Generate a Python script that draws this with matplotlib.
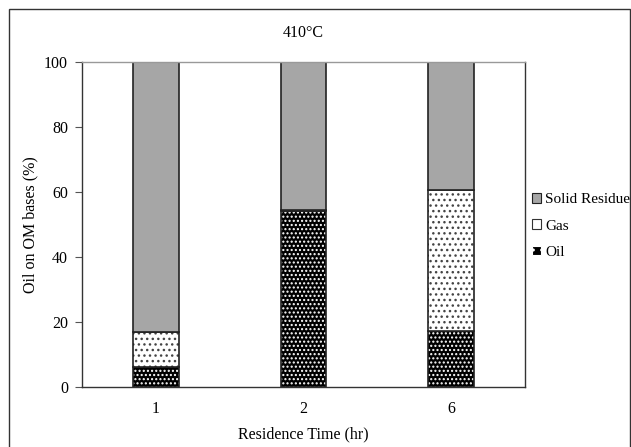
import matplotlib
matplotlib.use("Agg")
import matplotlib.pyplot as plt
import numpy as np
from matplotlib.patches import Rectangle, Patch

plt.rcParams['font.family'] = ['Liberation Serif', 'DejaVu Serif']
plt.rcParams['hatch.linewidth'] = 1.0

categories = ['1', '2', '6']
oil = [6.2, 54.2, 17.2]
gas = [10.7, 0.3, 43.4]
solid = [83.1, 45.5, 39.4]
series_names = ['Solid Residue', 'Gas', 'Oil']

FS = 11.5
fig = plt.figure(figsize=(6.31, 4.47), dpi=100)
ax = fig.add_axes([82/631, 1-387/447, (525-82)/631, (387-62)/447])

x = np.arange(len(categories))
w = 0.31
oil_arr = np.array(oil)
gas_arr = np.array(gas)
solid_arr = np.array(solid)

# Oil: black with white dots
ax.bar(x, oil_arr, w, color='black', edgecolor='white', hatch='....', linewidth=0)
ax.bar(x, oil_arr, w, fill=False, edgecolor='#222222', linewidth=1.2)
# Gas: white with black dots
ax.bar(x, gas_arr, w, bottom=oil_arr, color='white', edgecolor='#444444', hatch='...', linewidth=0)
ax.bar(x, gas_arr, w, bottom=oil_arr, fill=False, edgecolor='#222222', linewidth=1.2)
# Solid residue: grey
ax.bar(x, solid_arr, w, bottom=oil_arr + gas_arr, color='#a6a6a6', edgecolor='#222222', linewidth=1.2)

ax.set_xlim(-0.5, 2.5)
ax.set_ylim(0, 100)
ax.set_yticks(np.arange(0, 101, 20))
ax.set_xticks(x)
ax.set_xticklabels(categories)
ax.tick_params(axis='x', length=0, labelsize=FS, pad=10)
ax.tick_params(axis='y', direction='out', length=5, labelsize=FS, color='#555555', pad=5)
for s in ax.spines.values():
    s.set_color('#333333')
    s.set_linewidth(1.0)
ax.spines['top'].set_color('#999999')

ax.set_xlabel('Residence Time (hr)', fontsize=FS, labelpad=7)
ax.set_ylabel('Oil on OM bases (%)', fontsize=FS, labelpad=4)
ax.set_title('410°C', fontsize=FS, pad=18)

h_solid = Patch(facecolor='#a6a6a6', edgecolor='#222222', linewidth=0.8)
h_gas = Patch(facecolor='white', edgecolor='#333333', hatch='.', linewidth=0.8)
h_oil = Patch(facecolor='black', edgecolor='white', hatch='..', linewidth=0.8)
leg = fig.legend([h_solid, h_gas, h_oil], series_names, loc='center left',
                 bbox_to_anchor=(532/631, 1-226/447), frameon=False, fontsize=11,
                 handlelength=0.6, handleheight=0.6, handletextpad=0.25, labelspacing=0.85,
                 borderpad=0.0, borderaxespad=0.0)

fig.patches.append(Rectangle((9/631, -0.01), 0.999 - 9/631, 1.01 - 9/447, transform=fig.transFigure,
                             fill=False, edgecolor='#333333', linewidth=1.0))

fig.savefig('out.png', dpi=100)
